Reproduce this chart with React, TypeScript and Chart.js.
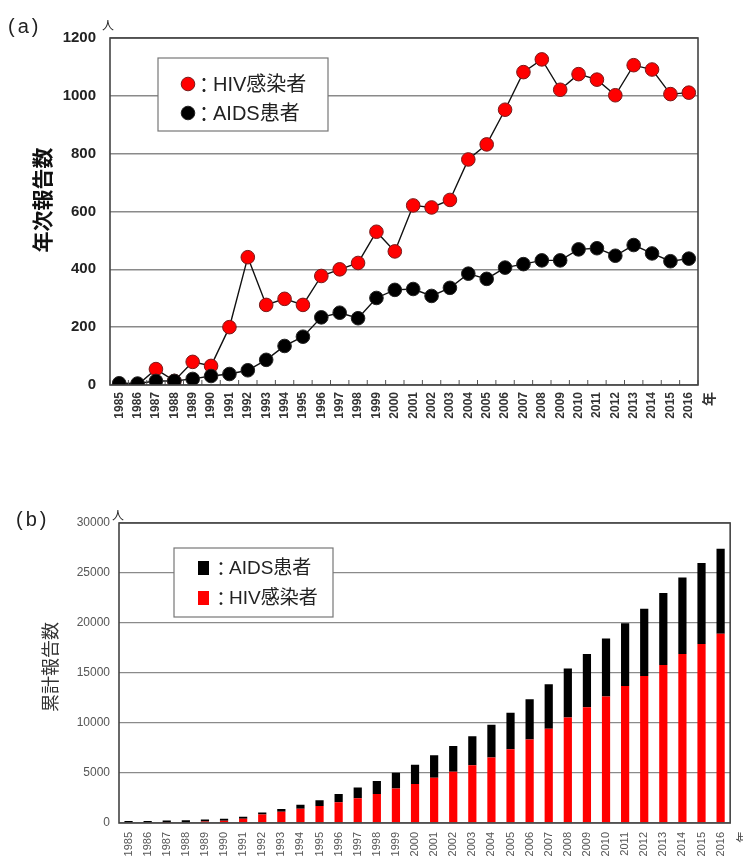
import React, { useEffect, useRef } from "react";
import { Chart, registerables } from "chart.js";

Chart.register(...registerables);

const years = [
  "1985", "1986", "1987", "1988", "1989", "1990", "1991", "1992", "1993", "1994",
  "1995", "1996", "1997", "1998", "1999", "2000", "2001", "2002", "2003", "2004",
  "2005", "2006", "2007", "2008", "2009", "2010", "2011", "2012", "2013", "2014",
  "2015", "2016",
];

// (a) annual reports
const hivAnnual = [
  0, 0, 55, 14, 80, 66, 200, 442, 277, 298, 277, 377, 400, 422, 530, 462,
  621, 614, 640, 780, 832, 952, 1082, 1126, 1021, 1075, 1056, 1002, 1106, 1091, 1006, 1011,
];
const aidsAnnual = [
  6, 5, 14, 14, 21, 31, 38, 51, 87, 135, 167, 234, 250, 231, 301, 329,
  332, 308, 336, 385, 367, 406, 418, 431, 431, 469, 473, 447, 484, 455, 428, 437,
];

// (b) cumulative reports
const hivCumulative = [
  0, 0, 55, 69, 149, 215, 415, 857, 1134, 1432, 1709, 2086, 2486, 2908, 3438, 3900,
  4521, 5135, 5775, 6555, 7387, 8339, 9421, 10547, 11568, 12643, 13699, 14701, 15807, 16898, 17904, 18915,
];
const aidsCumulative = [
  6, 11, 25, 39, 60, 91, 129, 180, 267, 402, 569, 803, 1053, 1284, 1585, 1914,
  2246, 2554, 2890, 3275, 3642, 4048, 4466, 4897, 5328, 5797, 6270, 6717, 7201, 7656, 8084, 8521,
];

const yMaxA = 1200;
const yStepA = 200;
const yMaxB = 30000;
const yStepB = 5000;

const hivLabel = "HIV感染者";
const aidsLabel = "AIDS患者";
const titleA = "年次報告数";
const titleB = "累計報告数";
const panelA = "(a)";
const panelB = "(b)";
const unitPerson = "人";
const unitYear = "年";

const FONT = "'Liberation Sans', Arial, 'Noto Sans CJK JP', sans-serif";
const CJK = "'Noto Sans CJK JP', 'Liberation Sans', sans-serif";

function drawRotated(ctx: CanvasRenderingContext2D, text: string, x: number, y: number, font: string, color: string) {
  ctx.save();
  ctx.translate(x, y);
  ctx.rotate(-Math.PI / 2);
  ctx.font = font;
  ctx.fillStyle = color;
  ctx.textAlign = "center";
  ctx.textBaseline = "middle";
  ctx.fillText(text, 0, 0);
  ctx.restore();
}

function drawPanel(ctx: CanvasRenderingContext2D, text: string, x: number, y: number) {
  ctx.save();
  ctx.fillStyle = "#222";
  ctx.font = `20px ${FONT}`;
  ctx.textAlign = "left";
  ctx.textBaseline = "middle";
  (ctx as any).letterSpacing = "3px";
  ctx.fillText(text, x, y);
  ctx.restore();
}

const plainTick = (v: any) => String(v);

const decorA = {
  id: "decorA",
  beforeDatasetsDraw(chart: any) {
    const { ctx } = chart;
    const ds = chart.data.datasets;
    ctx.save();
    ctx.fillStyle = "#fff";
    ctx.fillRect(158, 58, 170, 73);
    ctx.strokeStyle = "#777";
    ctx.lineWidth = 1.2;
    ctx.strokeRect(158, 58, 170, 73);
    const items = [ds[1], ds[0]];
    items.forEach((d: any, i: number) => {
      const cy = 84 + i * 29;
      ctx.beginPath();
      ctx.arc(188, cy, 6.8, 0, Math.PI * 2);
      ctx.fillStyle = d.pointBackgroundColor;
      ctx.fill();
      ctx.lineWidth = 1;
      ctx.strokeStyle = d.pointBorderColor;
      ctx.stroke();
      ctx.fillStyle = "#222";
      ctx.textBaseline = "middle";
      ctx.textAlign = "center";
      ctx.font = `20px ${CJK}`;
      ctx.fillText("：", 204, cy + 1);
      ctx.textAlign = "left";
      ctx.font = `20px ${FONT}`;
      ctx.fillText(d.label, 213, cy + 1);
    });
    ctx.restore();
  },
  afterDraw(chart: any) {
    const { ctx, chartArea: ca } = chart;
    const xs = chart.scales.x;
    ctx.save();
    ctx.strokeStyle = "#555";
    ctx.lineWidth = 1;
    const n = chart.data.labels.length;
    for (let i = 0; i <= n; i++) {
      let px: number;
      if (i === 0) px = ca.left;
      else if (i === n) px = ca.right;
      else px = (xs.getPixelForValue(i - 1) + xs.getPixelForValue(i)) / 2;
      ctx.beginPath();
      ctx.moveTo(px, ca.bottom);
      ctx.lineTo(px, ca.bottom - 5);
      ctx.stroke();
    }
    ctx.strokeStyle = "#444";
    ctx.lineWidth = 1.6;
    ctx.strokeRect(ca.left, ca.top, ca.right - ca.left, ca.bottom - ca.top);
    drawPanel(ctx, panelA, 8, 27);
    ctx.fillStyle = "#222";
    ctx.font = `12px ${CJK}`;
    ctx.textAlign = "center";
    ctx.textBaseline = "middle";
    ctx.fillText(unitPerson, 108, 25);
    drawRotated(ctx, unitYear, 709, 399, `bold 14px ${CJK}`, "#333");
    drawRotated(ctx, titleA, 42, 200, `bold 21px ${CJK}`, "#111");
    ctx.restore();
  },
};

const decorB = {
  id: "decorB",
  beforeDatasetsDraw(chart: any) {
    const { ctx } = chart;
    const ds = chart.data.datasets;
    ctx.save();
    ctx.fillStyle = "#fff";
    ctx.fillRect(174, 78, 159, 69);
    ctx.strokeStyle = "#777";
    ctx.lineWidth = 1.2;
    ctx.strokeRect(174, 78, 159, 69);
    const items = [ds[1], ds[0]];
    items.forEach((d: any, i: number) => {
      const cy = 98 + i * 30;
      ctx.fillStyle = d.backgroundColor;
      ctx.fillRect(198, cy - 7, 11, 14);
      ctx.fillStyle = "#222";
      ctx.textBaseline = "middle";
      ctx.textAlign = "center";
      ctx.font = `19px ${CJK}`;
      ctx.fillText("：", 221, cy + 1);
      ctx.textAlign = "left";
      ctx.font = `19px ${FONT}`;
      ctx.fillText(d.label, 229, cy + 1);
    });
    ctx.restore();
  },
  afterDraw(chart: any) {
    const { ctx, chartArea: ca } = chart;
    ctx.save();
    ctx.strokeStyle = "#444";
    ctx.lineWidth = 1.6;
    ctx.strokeRect(ca.left, ca.top, ca.right - ca.left, ca.bottom - ca.top);
    drawPanel(ctx, panelB, 16, 50);
    ctx.fillStyle = "#222";
    ctx.font = `12px ${CJK}`;
    ctx.textAlign = "center";
    ctx.textBaseline = "middle";
    ctx.fillText(unitPerson, 118, 45);
    drawRotated(ctx, unitYear, 742, 367, `12px ${CJK}`, "#444");
    drawRotated(ctx, titleB, 50, 197, `18px ${CJK}`, "#333");
    ctx.restore();
  },
};

export default function App() {
  const refA = useRef<HTMLCanvasElement | null>(null);
  const refB = useRef<HTMLCanvasElement | null>(null);

  useEffect(() => {
    const chartA = new Chart(refA.current as HTMLCanvasElement, {
      type: "line",
      data: {
        labels: years,
        datasets: [
          {
            label: aidsLabel,
            data: aidsAnnual,
            borderColor: "#111",
            borderWidth: 1.4,
            pointRadius: 6.8,
            pointBackgroundColor: "#000",
            pointBorderColor: "#222",
            pointBorderWidth: 1,
            tension: 0,
          },
          {
            label: hivLabel,
            data: hivAnnual,
            borderColor: "#111",
            borderWidth: 1.4,
            pointRadius: 6.8,
            pointBackgroundColor: "#ff0000",
            pointBorderColor: "#7a1a1a",
            pointBorderWidth: 1,
            tension: 0,
          },
        ],
      },
      options: {
        responsive: false,
        animation: false,
        events: [],
        layout: { padding: { left: 0, right: 45, top: 38, bottom: 0 } },
        plugins: { legend: { display: false }, tooltip: { enabled: false } },
        scales: {
          x: {
            type: "category",
            offset: true,
            afterFit: (s: any) => { s.height = 55; },
            grid: { display: false, drawTicks: false },
            border: { display: false },
            ticks: {
              minRotation: 90,
              maxRotation: 90,
              autoSkip: false,
              padding: 7,
              color: "#333",
              font: { family: FONT, size: 12, weight: "bold" },
            },
          },
          y: {
            min: 0,
            max: yMaxA,
            afterFit: (s: any) => { s.width = 110; },
            grid: { color: "#8a8a8a", lineWidth: 1.5, drawTicks: false },
            border: { display: false },
            ticks: {
              stepSize: yStepA,
              padding: 14,
              color: "#222",
              callback: plainTick,
              font: { family: FONT, size: 15, weight: "bold" },
            },
          },
        },
      },
      plugins: [decorA],
    } as any);

    const chartB = new Chart(refB.current as HTMLCanvasElement, {
      type: "bar",
      data: {
        labels: years,
        datasets: [
          {
            label: hivLabel,
            data: hivCumulative,
            backgroundColor: "#ff0000",
            barPercentage: 0.43,
            categoryPercentage: 1,
          },
          {
            label: aidsLabel,
            data: aidsCumulative,
            backgroundColor: "#000000",
            barPercentage: 0.43,
            categoryPercentage: 1,
            minBarLength: 2,
          },
        ],
      },
      options: {
        responsive: false,
        animation: false,
        events: [],
        layout: { padding: { left: 0, right: 12, top: 53, bottom: 0 } },
        plugins: { legend: { display: false }, tooltip: { enabled: false } },
        scales: {
          x: {
            stacked: true,
            afterFit: (s: any) => { s.height = 36; },
            grid: { display: false, drawTicks: false },
            border: { display: false },
            ticks: {
              minRotation: 90,
              maxRotation: 90,
              autoSkip: false,
              padding: 9,
              color: "#555",
              font: { family: FONT, size: 11 },
            },
          },
          y: {
            stacked: true,
            min: 0,
            max: yMaxB,
            afterFit: (s: any) => { s.width = 119; },
            grid: { color: "#8a8a8a", lineWidth: 1.3, drawTicks: false },
            border: { display: false },
            ticks: {
              stepSize: yStepB,
              padding: 9,
              color: "#555",
              callback: plainTick,
              font: { family: FONT, size: 12 },
            },
          },
        },
      },
      plugins: [decorB],
    } as any);

    return () => {
      chartA.destroy();
      chartB.destroy();
    };
  }, []);

  return (
    <div style={{ position: "absolute", left: 0, top: 0, width: 743, height: 859, background: "#fff", overflow: "hidden" }}>
      <canvas ref={refA} width={743} height={440} style={{ position: "absolute", left: 0, top: 0 }} />
      <canvas ref={refB} width={743} height={389} style={{ position: "absolute", left: 0, top: 470 }} />
    </div>
  );
}
